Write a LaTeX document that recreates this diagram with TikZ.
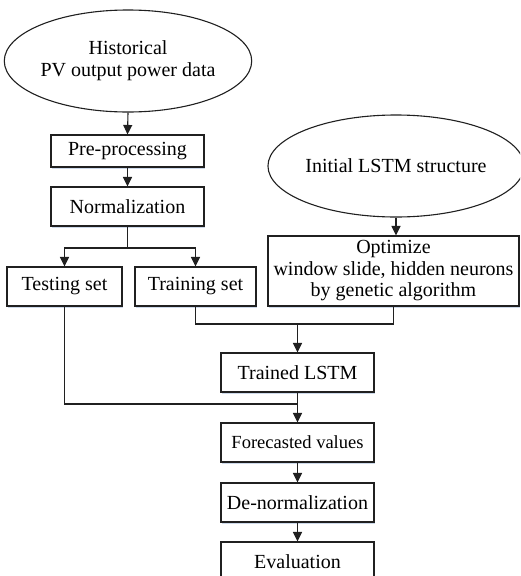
\documentclass[tikz,border=0pt]{standalone}
\usepackage{fontspec}
\setmainfont{Liberation Serif}
\usetikzlibrary{shapes.geometric,arrows.meta,shadows}
\definecolor{ln}{HTML}{202020}
\definecolor{sh}{HTML}{9DB4D6}
\tikzset{
  box/.style={draw=ln,line width=1.1pt,fill=white,rectangle,inner sep=0pt,align=center,
    font=\fontsize{20}{21.5}\selectfont,
    drop shadow={shadow xshift=1.2pt,shadow yshift=-1.8pt,fill=sh,opacity=0.5}},
  oval/.style={draw=ln,line width=1.1pt,fill=white,ellipse,inner sep=0pt,align=center,
    font=\fontsize{20}{22}\selectfont},
  wire/.style={draw=ln,line width=1.1pt},
  arr/.style={draw=ln,line width=1.1pt,-{Triangle[length=9.5pt,width=9pt]}}
}
\begin{document}
\begin{tikzpicture}[x=1pt,y=-1pt]
\clip (0,0) rectangle (520,576);
\fill[white] (0,0) rectangle (520,576);
\node[oval,minimum width=230pt,minimum height=102pt] (hist) at (128,61) {Historical\\PV output power data};
\node[box,minimum width=153pt,minimum height=32pt] (pre) at (127.5,151) {Pre-processing};
\node[box,minimum width=153pt,minimum height=39pt] (norm) at (127.5,206.5) {Normalization};
\node[box,minimum width=115pt,minimum height=39pt] (test) at (64.5,286.5) {Testing set};
\node[box,minimum width=121pt,minimum height=39pt] (train) at (195.5,286.5) {Training set};
\node[oval,minimum width=218pt,minimum height=102pt] (init) at (396,166) {Initial LSTM structure};
\node[box,minimum width=251pt,minimum height=70pt] (opt) at (393.5,271) {Optimize\\window slide, hidden neurons\\by genetic algorithm};
\node[box,minimum width=153pt,minimum height=39pt] (trained) at (297.5,372.5) {Trained LSTM};
\node[box,minimum width=153pt,minimum height=39pt,font=\fontsize{18.5}{20}\selectfont] (fore) at (297.5,442.5) {Forecasted values};
\node[box,minimum width=153pt,minimum height=39pt] (denorm) at (297.5,502.5) {De-normalization};
\node[box,minimum width=153pt,minimum height=39pt] (eval) at (297.5,561.5) {Evaluation};

\coordinate (nb) at (127.5,248);
\coordinate (tm) at (297.5,324);
\coordinate (fm) at (297.5,404);

\draw[arr] (hist.south) -- (pre.north);
\draw[arr] (pre.south) -- (norm.north);
\draw[wire] (norm.south) -- (nb);
\draw[arr] (nb) -| (test.north);
\draw[arr] (nb) -| (train.north);
\draw[arr] (init.south) -- (opt.north -| init.south);
\draw[wire] (train.south) |- (tm) -| (opt.south);
\draw[arr] (tm) -- (trained.north);
\draw[wire] (test.south) |- (fm);
\draw[arr] (trained.south) -- (fore.north);
\draw[arr] (fore.south) -- (denorm.north);
\draw[arr] (denorm.south) -- (eval.north);
\end{tikzpicture}
\end{document}
